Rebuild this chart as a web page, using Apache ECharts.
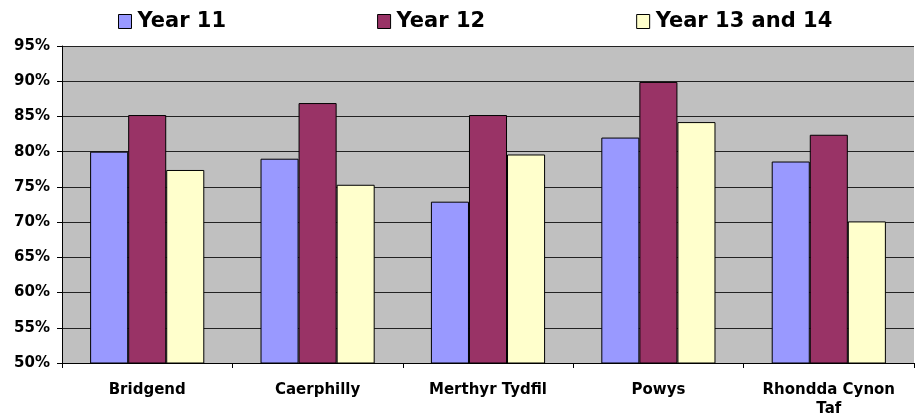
<!DOCTYPE html>
<html>
<head>
<meta charset="utf-8">
<script src="https://cdn.jsdelivr.net/npm/echarts@6/dist/echarts.min.js"></script>
<style>
  html, body { margin: 0; padding: 0; background: #fff; }
  #main { width: 916px; height: 414px; }
</style>
</head>
<body>
<div id="main"></div>
<script>
// chart data
var categories = ['Bridgend', 'Caerphilly', 'Merthyr Tydfil', 'Powys', 'Rhondda Cynon Taf']
var year11 = [80.0, 79.0, 72.9, 82.0, 78.6]
var year12 = [85.2, 86.9, 85.2, 89.9, 82.4]
var year13and14 = [77.4, 75.3, 79.6, 84.2, 70.1]
var seriesNames = ['Year 11', 'Year 12', 'Year 13 and 14']
var yTicks = [50, 55, 60, 65, 70, 75, 80, 85, 90, 95]

var font = 'DejaVu Sans'
var colors = ['#9999FF', '#993366', '#FFFFCC']

function bar(name, data, color) {
  return {
    name: name,
    type: 'bar',
    data: data,
    barGap: '0%',
    barCategoryGap: '33%',
    itemStyle: { color: color, borderColor: '#000', borderWidth: 1 }
  }
}

var myChart = echarts.init(document.getElementById('main'))
var option = {
  animation: false,
  color: colors,
  legend: {
    left: 113,
    top: 6,
    itemGap: 151,
    itemWidth: 13,
    itemHeight: 14,
    icon: 'rect',
    itemStyle: { borderColor: '#000', borderWidth: 1 },
    textStyle: { fontFamily: font, fontWeight: 'bold', fontSize: 21, color: '#000', padding: [0, 0, 0, 1] },
    data: seriesNames
  },
  grid: {
    left: 62,
    right: 2,
    top: 46,
    bottom: 51,
    outerBoundsMode: 'none',
    containLabel: false,
    show: true,
    backgroundColor: '#C0C0C0',
    borderWidth: 0
  },
  xAxis: {
    type: 'category',
    data: categories,
    axisLine: { lineStyle: { color: '#000', width: 1 } },
    axisTick: { show: true, length: 5, lineStyle: { color: '#000' } },
    axisLabel: {
      interval: 0,
      margin: 18,
      fontFamily: font,
      fontWeight: 'bold',
      fontSize: 15,
      lineHeight: 19,
      color: '#000',
      formatter: function (v) { return v.replace('Cynon ', 'Cynon\n') }
    }
  },
  yAxis: {
    type: 'value',
    min: yTicks[0],
    max: yTicks[yTicks.length - 1],
    interval: 5,
    axisLine: { show: true, lineStyle: { color: '#000', width: 1 } },
    axisTick: { show: true, length: 5, lineStyle: { color: '#000' } },
    splitLine: { lineStyle: { color: '#222', width: 1 } },
    axisLabel: {
      margin: 12,
      fontFamily: font,
      fontWeight: 'bold',
      fontSize: 15,
      color: '#000',
      formatter: '{value}%'
    }
  },
  series: [
    bar(seriesNames[0], year11, colors[0]),
    bar(seriesNames[1], year12, colors[1]),
    bar(seriesNames[2], year13and14, colors[2])
  ]
}
myChart.setOption(option)
</script>
</body>
</html>
